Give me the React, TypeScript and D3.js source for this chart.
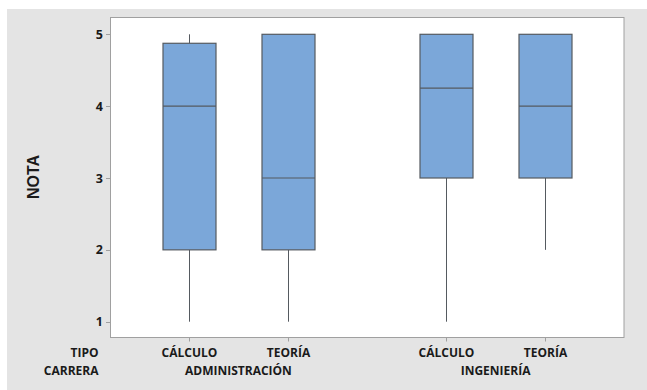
import React from "react";
import * as d3 from "d3";

const careers = ["ADMINISTRACIÓN", "INGENIERÍA"];
const positions = [1, 2, 3.6, 4.6];
const groupLabels = ["CÁLCULO", "TEORÍA", "CÁLCULO", "TEORÍA"];
const mins = [1, 1, 1, 2];
const q1s = [2, 2, 3, 3];
const medians = [4, 3, 4.25, 4];
const q3s = [4.875, 5, 5, 5];
const maxs = [5, 5, 5, 5];
const yTicks = [1, 2, 3, 4, 5];

const W = 647;
const H = 390;
const frame = { left: 110.5, right: 624, top: 17.5, bottom: 337.5 };

export default function App() {
  const x = d3.scaleLinear().domain([1, 4.6]).range([189, 545]);
  const y = d3.scaleLinear().domain([1, 5]).range([321.7, 34.3]);
  const boxW = 53;
  const font = "'Open Sans', 'Noto Sans', sans-serif";
  const fill = "#7BA7D9";
  const stroke = "#555a60";

  return (
    <svg
      width={W}
      height={H}
      style={{ position: "absolute", left: 0, top: 0, display: "block" }}
    >
      <rect x={0} y={0} width={W} height={H} fill="#ffffff" />
      <rect x={7} y={9} width={W - 7} height={H - 9} fill="#e4e4e4" />
      <rect
        x={frame.left}
        y={frame.top}
        width={frame.right - frame.left}
        height={frame.bottom - frame.top}
        fill="#ffffff"
        stroke="#a0a0a0"
        strokeWidth={1}
      />
      {yTicks.map((t) => (
        <g key={t}>
          <line
            x1={106}
            x2={frame.left}
            y1={Math.round(y(t)) + 0.5}
            y2={Math.round(y(t)) + 0.5}
            stroke="#a0a0a0"
          />
          <text
            x={103}
            y={y(t)}
            dy="0.36em"
            textAnchor="end"
            fontFamily={font}
            fontWeight={700}
            fontSize={12.5}
            fill="#1a1a1a"
          >
            {t}
          </text>
        </g>
      ))}
      <text
        transform={`translate(33.2,${177}) rotate(-90)`}
        textAnchor="middle"
        dy="0.36em"
        fontFamily="'Liberation Sans', Arial, sans-serif"
        fontWeight={700}
        fontSize={16}
        fill="#1a1a1a"
      >
        NOTA
      </text>
      {positions.map((p, i) => {
        const cx = Math.round(x(p)) + 0.5;
        return (
          <g key={i}>
            <line x1={cx} x2={cx} y1={y(maxs[i])} y2={y(q3s[i])} stroke={stroke} />
            <line x1={cx} x2={cx} y1={y(q1s[i])} y2={y(mins[i])} stroke={stroke} />
            <rect
              x={cx - boxW / 2}
              y={y(q3s[i])}
              width={boxW}
              height={y(q1s[i]) - y(q3s[i])}
              fill={fill}
              stroke={stroke}
              strokeWidth={1.2}
            />
            <line
              x1={cx - boxW / 2}
              x2={cx + boxW / 2}
              y1={y(medians[i])}
              y2={y(medians[i])}
              stroke={stroke}
              strokeWidth={1.2}
            />
            <line x1={cx} x2={cx} y1={frame.bottom} y2={frame.bottom + 4} stroke="#a0a0a0" />
            <text
              x={cx}
              y={356.5}
              textAnchor="middle"
              fontFamily={font}
              fontWeight={700}
              fontSize={12}
              fill="#1a1a1a"
            >
              {groupLabels[i]}
            </text>
          </g>
        );
      })}
      {careers.map((c, j) => (
        <text
          key={c}
          x={(x(positions[2 * j]) + x(positions[2 * j + 1])) / 2}
          y={374.5}
          textAnchor="middle"
          fontFamily={font}
          fontWeight={700}
          fontSize={12}
          fill="#1a1a1a"
        >
          {c}
        </text>
      ))}
      <text x={98.5} y={356.5} textAnchor="end" fontFamily={font} fontWeight={700} fontSize={12} fill="#1a1a1a">
        TIPO
      </text>
      <text x={98.5} y={374.5} textAnchor="end" fontFamily={font} fontWeight={700} fontSize={12} fill="#1a1a1a">
        CARRERA
      </text>
    </svg>
  );
}
